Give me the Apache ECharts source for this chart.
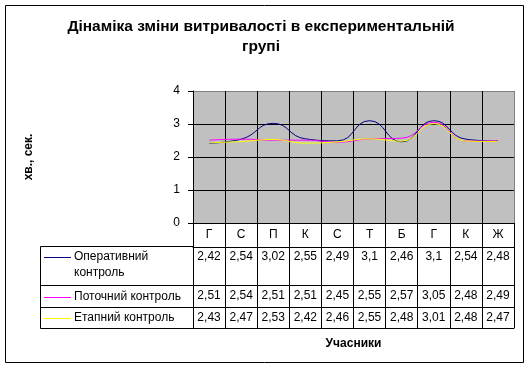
<!DOCTYPE html>
<html>
<head>
<meta charset="utf-8">
<script src="https://cdn.jsdelivr.net/npm/echarts@6/dist/echarts.min.js"></script>
<style>
html,body{margin:0;padding:0;background:#fff;}
#chart{width:530px;height:369px;}
</style>
</head>
<body>
<div id="chart"></div>
<script>
const categories = ['Г','С','П','К','С','Т','Б','Г','К','Ж'];
const seriesNames = ['Оперативний контроль','Поточний контроль','Етапний контроль'];
const operatyvnyi = [2.42,2.54,3.02,2.55,2.49,3.1,2.46,3.1,2.54,2.48];
const potochnyi = [2.51,2.54,2.51,2.51,2.45,2.55,2.57,3.05,2.48,2.49];
const etapnyi = [2.43,2.47,2.53,2.42,2.46,2.55,2.48,3.01,2.48,2.47];
const yTicks = [0,1,2,3,4];
const titleText = 'Дінаміка зміни витривалості в експериментальній\nгрупі';
const yName = 'хв., сек.';
const xName = 'Учасники';

const seriesData = [operatyvnyi, potochnyi, etapnyi];
const colors = ['#000080','#FF00FF','#FFFF00'];
const FONT = 'Arial, "Liberation Sans", sans-serif';
const fmt = v => String(v).replace('.', ',');

const chart = echarts.init(document.getElementById('chart'), null, {renderer:'canvas'});

const vSplitColors = categories.map(() => '#000');
vSplitColors.push('#808080');
const hSplitColors = yTicks.map((t,i) => i === yTicks.length-1 ? '#808080' : '#000');

function rowAxis(offset, data, margin, extra) {
  return Object.assign({
    type:'category', gridIndex:0, position:'bottom', offset: offset,
    data: categories, boundaryGap:true,
    axisLine:{show:true, lineStyle:{color:'#000', width:1}},
    axisTick:{show:false},
    splitLine:{show:false},
    axisLabel: data ? {show:true, interval:0, margin: margin, fontSize:12, fontFamily:FONT, color:'#000',
      formatter: (v, i) => fmt(data[i])} : {show:false}
  }, extra || {});
}

const xAxes = [
  {
    type:'category', gridIndex:0, position:'bottom', offset:0, data:categories, boundaryGap:true,
    axisLine:{show:true, lineStyle:{color:'#000', width:1}},
    axisTick:{show:true, length:105, interval:0, lineStyle:{color:'#000', width:1}},
    axisLabel:{show:true, interval:0, margin:6, fontSize:12, fontFamily:FONT, color:'#000'},
    splitLine:{show:true, interval:0, lineStyle:{color:vSplitColors, width:1}}
  },
  rowAxis(24, operatyvnyi, 4),
  rowAxis(62, potochnyi, 5),
  rowAxis(84, etapnyi, 5),
  rowAxis(105, null, 0, {name:xName, nameLocation:'middle', nameGap:10,
    nameTextStyle:{fontSize:12, fontWeight:'bold', fontFamily:FONT, color:'#000', verticalAlign:'top'}})
];

const legendRows = [
  {lineY:257, textY:257},
  {lineY:297, textY:297},
  {lineY:318, textY:318}
];
const graphics = [
  {type:'rect', z:100, shape:{x:5.5, y:5.5, width:518, height:357}, style:{fill:null, stroke:'#000', lineWidth:1}, silent:true},
  {type:'polyline', z:100, shape:{points:[[193,246.5],[40.5,246.5],[40.5,328.5],[193,328.5]]}, style:{fill:null, stroke:'#000', lineWidth:1}},
  {type:'line', z:100, shape:{x1:40.5,y1:285.5,x2:193,y2:285.5}, style:{stroke:'#000', lineWidth:1}},
  {type:'line', z:100, shape:{x1:40.5,y1:307.5,x2:193,y2:307.5}, style:{stroke:'#000', lineWidth:1}}
];
legendRows.forEach((r, i) => {
  graphics.push({type:'line', z:100, shape:{x1:44, y1:r.lineY+0.5, x2:71, y2:r.lineY+0.5}, style:{stroke:colors[i], lineWidth:1}});
  graphics.push({type:'text', z:100, x:74, y:r.textY - 8, style:{text: i===0 ? seriesNames[0].replace(' ', '\n') : seriesNames[i], fill:'#000', font:'12px ' + FONT, lineHeight:16, textVerticalAlign:'top'}});
});

const option = {
  animation:false,
  backgroundColor:'#fff',
  title:{
    text:titleText, left:256, top:12, textAlign:'center',
    textStyle:{fontSize:15.5, fontWeight:'bold', fontFamily:FONT, color:'#000', lineHeight:20}
  },
  grid:{left:193, right:16, top:91, bottom:146, show:true, backgroundColor:'#C0C0C0', borderColor:'#808080', borderWidth:0, containLabel:false},
  xAxis: xAxes,
  yAxis:{
    type:'value', min:0, max:4, interval:1,
    name:yName, nameLocation:'middle', nameGap:158, nameRotate:90,
    nameTextStyle:{fontSize:12, fontWeight:'bold', fontFamily:FONT, color:'#000'},
    axisLine:{show:true, lineStyle:{color:'#000', width:1}},
    axisTick:{show:true, length:5, lineStyle:{color:'#000'}},
    axisLabel:{margin:13, fontSize:12, fontFamily:FONT, color:'#000'},
    splitLine:{show:true, lineStyle:{color:hSplitColors, width:1}}
  },
  graphic: graphics,
  series: seriesData.map((d, i) => ({
    name: seriesNames[i], type:'line', data:d, xAxisIndex:0, yAxisIndex:0,
    smooth:0.5, showSymbol:false, symbol:'none',
    lineStyle:{color:colors[i], width:1}, itemStyle:{color:colors[i]}, z:3+i
  }))
};
chart.setOption(option);
</script>
</body>
</html>
